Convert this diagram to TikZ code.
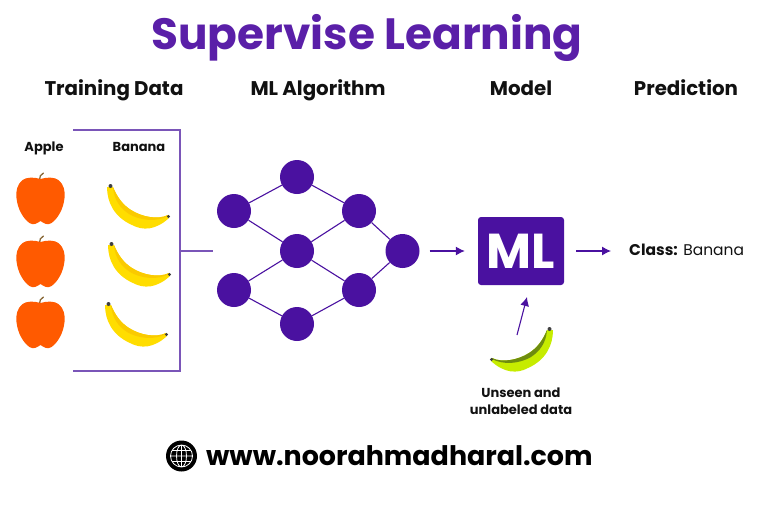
\documentclass[tikz,border=0pt]{standalone}
\usepackage{fontspec}
\usepackage{xcolor}
\setmainfont{Poppins}
\usetikzlibrary{calc,arrows.meta}
\definecolor{deep}{HTML}{4A11A0}
\definecolor{title}{HTML}{5A1FA8}
\definecolor{edge}{HTML}{7A55B8}
\definecolor{apple}{HTML}{FF5A00}
\definecolor{stem}{HTML}{8A6A3A}
\definecolor{ink}{HTML}{111111}
\definecolor{ripe}{HTML}{FFDD00}
\definecolor{ripeband}{HTML}{FACA00}
\definecolor{lime}{HTML}{C6EC00}
\definecolor{limeband}{HTML}{6E8C10}
\tikzset{
  base/.style={draw=deep, line width=1.1pt},
  frame/.style={draw=edge, line width=1.3pt, line join=miter},
  flow/.style={draw=deep, line width=1.1pt, -{Latex[length=9pt,width=9pt]}},
  dot/.style={circle, fill=deep, inner sep=0pt, minimum size=34pt},
  head/.style={anchor=base, text=ink, font=\fontsize{19.8}{20}\selectfont\bfseries},
  lab/.style={anchor=base, text=ink, font=\fontsize{13}{16.5}\selectfont\bfseries, align=center},
  pics/apple/.style={code={
    \draw[stem, line width=1.3pt, line cap=round] (-1,-21) .. controls (-1,-24) and (0,-27) .. (3,-28);
    \fill[apple] (0,-22) .. controls (6,-24) and (14,-24) .. (18,-21) .. controls (23,-17) and (25,-10) .. (24,-3)
      .. controls (23,8) and (17,18) .. (11,22) .. controls (7,25) and (3,22) .. (0,20)
      .. controls (-3,22) and (-7,25) .. (-11,22) .. controls (-17,18) and (-23,8) .. (-24,-3)
      .. controls (-25,-10) and (-23,-17) .. (-18,-21) .. controls (-14,-24) and (-6,-24) .. (0,-22) -- cycle;
  }},
  pics/banana/.style 2 args={code={
    \fill[#1] (-3,1) .. controls (-3,16) and (4,31) .. (22,39) .. controls (33,45) and (46,44) .. (59,32)
      -- (58,29) .. controls (48,34) and (32,31) .. (21,24) .. controls (13,19) and (7,11) .. (3,1) -- cycle;
    \fill[#2] (3,1) .. controls (4,14) and (10,22) .. (19,28) .. controls (31,35) and (47,36) .. (58,30)
      -- (58,29) .. controls (48,34) and (32,31) .. (21,24) .. controls (13,19) and (7,11) .. (3,1) -- cycle;
    \fill[black!75] (0.5,0) circle (2);
    \fill[black!75] (58.5,30.5) circle (1.7);
  }},
}

\begin{document}
\begin{tikzpicture}[x=1pt,y=-1pt]
  \useasboundingbox (0,0) rectangle (758,504);
  % headings
  \node[anchor=base, text=title, font=\fontsize{43.8}{44}\selectfont\bfseries] (hTitle) at (367,49) {Supervise Learning};
  \node[head] (hData) at (114,95) {Training Data};
  \node[head] (hAlgo) at (318,95) {ML Algorithm};
  \node[head] (hModel) at (521,95) {Model};
  \node[head] (hPred) at (686,95) {Prediction};
  \node[lab] (lApple) at (44,151) {Apple};
  \node[lab] (lBanana) at (139,151) {Banana};
  % fruit
  \foreach \Y in {201,264,325}
    \pic at (40.5,\Y) {apple};
  \pic at (110,186) {banana={ripe}{ripeband}};
  \pic at (111,244) {banana={ripe}{ripeband}};
  \pic at (108,304) {banana={ripe}{ripeband}};
  % bracket
  \coordinate (bTop) at (73,130);
  \coordinate (bBot) at (73,371);
  \coordinate (bMid) at (180,251);
  \coordinate (bEnd) at (213,251);
  \draw[frame] (bTop) -- (180,130) -- (180,371) -- (bBot);
  \draw[frame] (bMid) -- (bEnd);
  % network
  \foreach \N/\X/\Y in {nTop/297/177,nA/234/211,nB/359/211,nMid/297/251,nOut/402.5/251,nC/234/290,nD/359/290,nBot/297/324}
    \node[dot] (\N) at (\X,\Y) {};
  \foreach \P/\Q in {nTop/nA,nTop/nB,nA/nMid,nB/nMid,nB/nOut,nMid/nC,nMid/nD,nC/nBot,nD/nBot,nD/nOut}
    \draw[base] (\P) -- (\Q);
  % model
  \node[fill=deep, rounded corners=3pt, minimum width=86pt, minimum height=68pt, inner sep=0pt, text=white,
    font=\fontsize{49}{49}\selectfont\bfseries] (nML) at (521,251) {ML};
  \node[anchor=base west, inner sep=0pt, text=ink, font=\fontsize{15.5}{16}\selectfont] (nClass) at (629,255) {\textbf{Class:} Banana};
  \draw[flow, shorten <=10pt, shorten >=13pt] (nOut) -- (nML);
  \draw[flow, shorten <=12pt, shorten >=18pt] (nML) -- (nClass.west |- nML);
  % unseen
  \coordinate (uFrom) at (517,335);
  \coordinate (uTo) at (527,297);
  \draw[flow] (uFrom) -- (uTo);
  \pic[xscale=-1] at (550,329) {banana={lime}{limeband}};
  \node[lab] (lUnseen) at (521,414) {Unseen and\\unlabeled data};
  % footer
  \node[circle, fill=black, inner sep=0pt, minimum size=31pt] (nGlobe) at (181.5,456) {};
  \draw[white, line width=0.8pt] (nGlobe) circle (11) (nGlobe) ellipse (5 and 11)
    (170.5,456) -- (192.5,456) (172,450.5) -- (191,450.5) (172,461.5) -- (191,461.5) (181.5,445) -- (181.5,467);
  \node[anchor=base west, inner sep=0pt, text=black, font=\fontsize{26.9}{27}\selectfont\bfseries] (nSite) at (206,465) {www.noorahmadharal.com};
\end{tikzpicture}
\end{document}
